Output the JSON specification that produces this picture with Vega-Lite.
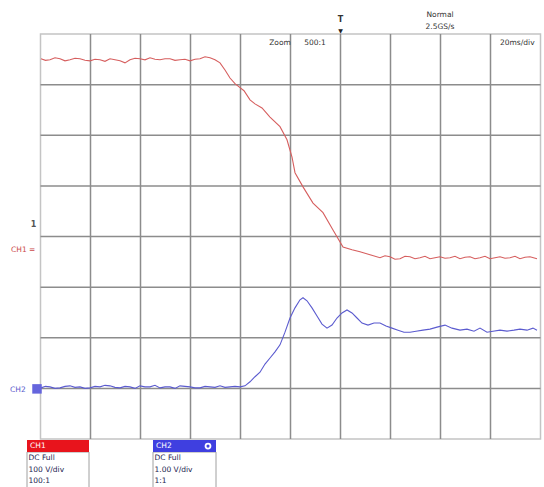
{
  "$schema": "https://vega.github.io/schema/vega-lite/v6.json",
  "width": 500,
  "height": 405,
  "autosize": {"type": "none"},
  "padding": {"left": 40.5, "top": 34, "right": 3.5, "bottom": 48},
  "background": "white",
  "config": {"view": {"stroke": "#c4c4c4", "strokeWidth": 1.5}, "font": "DejaVu Sans"},
  "datasets": {
    "vgrid": [{"p": 1}, {"p": 2}, {"p": 3}, {"p": 4}, {"p": 5}, {"p": 6}, {"p": 7}, {"p": 8}, {"p": 9}],
    "hgrid": [{"p": 1}, {"p": 2}, {"p": 3}, {"p": 4}, {"p": 5}, {"p": 6}, {"p": 7}],
    "traces": [
      {"ch": "CH1", "t": 0.01, "v": 7.51}, {"ch": "CH1", "t": 0.1, "v": 7.48}, {"ch": "CH1", "t": 0.19, "v": 7.49}, {"ch": "CH1", "t": 0.29, "v": 7.53},
      {"ch": "CH1", "t": 0.39, "v": 7.51}, {"ch": "CH1", "t": 0.49, "v": 7.47}, {"ch": "CH1", "t": 0.59, "v": 7.49}, {"ch": "CH1", "t": 0.69, "v": 7.52},
      {"ch": "CH1", "t": 0.79, "v": 7.51}, {"ch": "CH1", "t": 0.89, "v": 7.48}, {"ch": "CH1", "t": 0.99, "v": 7.47}, {"ch": "CH1", "t": 1.09, "v": 7.5},
      {"ch": "CH1", "t": 1.19, "v": 7.49}, {"ch": "CH1", "t": 1.29, "v": 7.46}, {"ch": "CH1", "t": 1.39, "v": 7.51}, {"ch": "CH1", "t": 1.49, "v": 7.49},
      {"ch": "CH1", "t": 1.59, "v": 7.47}, {"ch": "CH1", "t": 1.69, "v": 7.43}, {"ch": "CH1", "t": 1.79, "v": 7.49}, {"ch": "CH1", "t": 1.89, "v": 7.52},
      {"ch": "CH1", "t": 1.99, "v": 7.51}, {"ch": "CH1", "t": 2.09, "v": 7.49}, {"ch": "CH1", "t": 2.19, "v": 7.53}, {"ch": "CH1", "t": 2.29, "v": 7.5},
      {"ch": "CH1", "t": 2.39, "v": 7.49}, {"ch": "CH1", "t": 2.49, "v": 7.51}, {"ch": "CH1", "t": 2.59, "v": 7.51}, {"ch": "CH1", "t": 2.69, "v": 7.48},
      {"ch": "CH1", "t": 2.79, "v": 7.49}, {"ch": "CH1", "t": 2.89, "v": 7.5}, {"ch": "CH1", "t": 2.99, "v": 7.47}, {"ch": "CH1", "t": 3.09, "v": 7.5},
      {"ch": "CH1", "t": 3.19, "v": 7.51}, {"ch": "CH1", "t": 3.29, "v": 7.55}, {"ch": "CH1", "t": 3.39, "v": 7.53}, {"ch": "CH1", "t": 3.49, "v": 7.49},
      {"ch": "CH1", "t": 3.59, "v": 7.43}, {"ch": "CH1", "t": 3.69, "v": 7.29}, {"ch": "CH1", "t": 3.79, "v": 7.13}, {"ch": "CH1", "t": 3.89, "v": 7.02},
      {"ch": "CH1", "t": 3.99, "v": 6.94}, {"ch": "CH1", "t": 4.07, "v": 6.88}, {"ch": "CH1", "t": 4.19, "v": 6.7}, {"ch": "CH1", "t": 4.29, "v": 6.62},
      {"ch": "CH1", "t": 4.43, "v": 6.54}, {"ch": "CH1", "t": 4.59, "v": 6.36}, {"ch": "CH1", "t": 4.79, "v": 6.17}, {"ch": "CH1", "t": 4.93, "v": 5.91},
      {"ch": "CH1", "t": 5.03, "v": 5.57}, {"ch": "CH1", "t": 5.09, "v": 5.26}, {"ch": "CH1", "t": 5.25, "v": 4.98}, {"ch": "CH1", "t": 5.45, "v": 4.66},
      {"ch": "CH1", "t": 5.65, "v": 4.47}, {"ch": "CH1", "t": 5.85, "v": 4.13}, {"ch": "CH1", "t": 6.05, "v": 3.79}, {"ch": "CH1", "t": 6.23, "v": 3.74},
      {"ch": "CH1", "t": 6.39, "v": 3.7}, {"ch": "CH1", "t": 6.59, "v": 3.64}, {"ch": "CH1", "t": 6.79, "v": 3.58}, {"ch": "CH1", "t": 6.89, "v": 3.62},
      {"ch": "CH1", "t": 6.99, "v": 3.6}, {"ch": "CH1", "t": 7.09, "v": 3.55}, {"ch": "CH1", "t": 7.19, "v": 3.56}, {"ch": "CH1", "t": 7.29, "v": 3.61},
      {"ch": "CH1", "t": 7.39, "v": 3.6}, {"ch": "CH1", "t": 7.49, "v": 3.56}, {"ch": "CH1", "t": 7.59, "v": 3.58}, {"ch": "CH1", "t": 7.69, "v": 3.61},
      {"ch": "CH1", "t": 7.79, "v": 3.56}, {"ch": "CH1", "t": 7.89, "v": 3.58}, {"ch": "CH1", "t": 7.99, "v": 3.6}, {"ch": "CH1", "t": 8.09, "v": 3.57},
      {"ch": "CH1", "t": 8.19, "v": 3.58}, {"ch": "CH1", "t": 8.29, "v": 3.61}, {"ch": "CH1", "t": 8.39, "v": 3.56}, {"ch": "CH1", "t": 8.49, "v": 3.59},
      {"ch": "CH1", "t": 8.59, "v": 3.6}, {"ch": "CH1", "t": 8.69, "v": 3.56}, {"ch": "CH1", "t": 8.79, "v": 3.58}, {"ch": "CH1", "t": 8.89, "v": 3.61},
      {"ch": "CH1", "t": 8.99, "v": 3.56}, {"ch": "CH1", "t": 9.09, "v": 3.58}, {"ch": "CH1", "t": 9.19, "v": 3.6}, {"ch": "CH1", "t": 9.29, "v": 3.57},
      {"ch": "CH1", "t": 9.39, "v": 3.58}, {"ch": "CH1", "t": 9.49, "v": 3.61}, {"ch": "CH1", "t": 9.59, "v": 3.56}, {"ch": "CH1", "t": 9.69, "v": 3.59},
      {"ch": "CH1", "t": 9.79, "v": 3.6}, {"ch": "CH1", "t": 9.93, "v": 3.56},

      {"ch": "CH2", "t": 0.01, "v": 1.01}, {"ch": "CH2", "t": 0.1, "v": 1.04}, {"ch": "CH2", "t": 0.19, "v": 1.03}, {"ch": "CH2", "t": 0.29, "v": 1.0},
      {"ch": "CH2", "t": 0.39, "v": 1.01}, {"ch": "CH2", "t": 0.49, "v": 1.04}, {"ch": "CH2", "t": 0.59, "v": 1.05}, {"ch": "CH2", "t": 0.69, "v": 1.02},
      {"ch": "CH2", "t": 0.79, "v": 1.03}, {"ch": "CH2", "t": 0.89, "v": 1.0}, {"ch": "CH2", "t": 0.99, "v": 1.01}, {"ch": "CH2", "t": 1.09, "v": 1.04},
      {"ch": "CH2", "t": 1.19, "v": 1.03}, {"ch": "CH2", "t": 1.29, "v": 1.06}, {"ch": "CH2", "t": 1.39, "v": 1.05}, {"ch": "CH2", "t": 1.49, "v": 1.02},
      {"ch": "CH2", "t": 1.59, "v": 1.01}, {"ch": "CH2", "t": 1.69, "v": 1.04}, {"ch": "CH2", "t": 1.79, "v": 1.03}, {"ch": "CH2", "t": 1.89, "v": 1.0},
      {"ch": "CH2", "t": 1.99, "v": 1.05}, {"ch": "CH2", "t": 2.09, "v": 1.03}, {"ch": "CH2", "t": 2.19, "v": 1.03}, {"ch": "CH2", "t": 2.29, "v": 1.06},
      {"ch": "CH2", "t": 2.39, "v": 1.01}, {"ch": "CH2", "t": 2.49, "v": 1.03}, {"ch": "CH2", "t": 2.59, "v": 1.03}, {"ch": "CH2", "t": 2.69, "v": 1.0},
      {"ch": "CH2", "t": 2.79, "v": 1.05}, {"ch": "CH2", "t": 2.89, "v": 1.04}, {"ch": "CH2", "t": 2.99, "v": 1.03}, {"ch": "CH2", "t": 3.09, "v": 1.01},
      {"ch": "CH2", "t": 3.19, "v": 1.01}, {"ch": "CH2", "t": 3.29, "v": 1.04}, {"ch": "CH2", "t": 3.39, "v": 1.03}, {"ch": "CH2", "t": 3.49, "v": 1.02},
      {"ch": "CH2", "t": 3.59, "v": 1.05}, {"ch": "CH2", "t": 3.69, "v": 1.02}, {"ch": "CH2", "t": 3.79, "v": 1.03}, {"ch": "CH2", "t": 3.89, "v": 1.04},
      {"ch": "CH2", "t": 3.99, "v": 1.03}, {"ch": "CH2", "t": 4.09, "v": 1.05}, {"ch": "CH2", "t": 4.19, "v": 1.13}, {"ch": "CH2", "t": 4.29, "v": 1.23},
      {"ch": "CH2", "t": 4.39, "v": 1.32}, {"ch": "CH2", "t": 4.49, "v": 1.48}, {"ch": "CH2", "t": 4.59, "v": 1.6}, {"ch": "CH2", "t": 4.69, "v": 1.72},
      {"ch": "CH2", "t": 4.79, "v": 1.86}, {"ch": "CH2", "t": 4.89, "v": 2.11}, {"ch": "CH2", "t": 4.99, "v": 2.39}, {"ch": "CH2", "t": 5.09, "v": 2.59},
      {"ch": "CH2", "t": 5.19, "v": 2.75}, {"ch": "CH2", "t": 5.25, "v": 2.79}, {"ch": "CH2", "t": 5.33, "v": 2.73}, {"ch": "CH2", "t": 5.43, "v": 2.59},
      {"ch": "CH2", "t": 5.53, "v": 2.43}, {"ch": "CH2", "t": 5.63, "v": 2.27}, {"ch": "CH2", "t": 5.73, "v": 2.19}, {"ch": "CH2", "t": 5.83, "v": 2.25},
      {"ch": "CH2", "t": 5.93, "v": 2.39}, {"ch": "CH2", "t": 6.03, "v": 2.49}, {"ch": "CH2", "t": 6.13, "v": 2.55}, {"ch": "CH2", "t": 6.23, "v": 2.49},
      {"ch": "CH2", "t": 6.33, "v": 2.39}, {"ch": "CH2", "t": 6.43, "v": 2.29}, {"ch": "CH2", "t": 6.55, "v": 2.25}, {"ch": "CH2", "t": 6.67, "v": 2.29},
      {"ch": "CH2", "t": 6.79, "v": 2.29}, {"ch": "CH2", "t": 6.91, "v": 2.23}, {"ch": "CH2", "t": 7.03, "v": 2.19}, {"ch": "CH2", "t": 7.15, "v": 2.15},
      {"ch": "CH2", "t": 7.27, "v": 2.11}, {"ch": "CH2", "t": 7.39, "v": 2.11}, {"ch": "CH2", "t": 7.51, "v": 2.13}, {"ch": "CH2", "t": 7.65, "v": 2.15},
      {"ch": "CH2", "t": 7.79, "v": 2.17}, {"ch": "CH2", "t": 7.93, "v": 2.21}, {"ch": "CH2", "t": 8.09, "v": 2.25}, {"ch": "CH2", "t": 8.23, "v": 2.19},
      {"ch": "CH2", "t": 8.39, "v": 2.15}, {"ch": "CH2", "t": 8.53, "v": 2.17}, {"ch": "CH2", "t": 8.67, "v": 2.13}, {"ch": "CH2", "t": 8.79, "v": 2.19},
      {"ch": "CH2", "t": 8.93, "v": 2.11}, {"ch": "CH2", "t": 9.05, "v": 2.13}, {"ch": "CH2", "t": 9.19, "v": 2.15}, {"ch": "CH2", "t": 9.33, "v": 2.13},
      {"ch": "CH2", "t": 9.47, "v": 2.15}, {"ch": "CH2", "t": 9.59, "v": 2.17}, {"ch": "CH2", "t": 9.73, "v": 2.15}, {"ch": "CH2", "t": 9.85, "v": 2.19},
      {"ch": "CH2", "t": 9.93, "v": 2.15}
    ],
    "topCenter": [
      {"label": "Normal", "x": 7.99, "y": 8.38},
      {"label": "2.5GS/s", "x": 7.99, "y": 8.14},
      {"label": "Zoom", "x": 4.79, "y": 7.83},
      {"label": "500:1", "x": 5.49, "y": 7.83}
    ],
    "topLeft": [
      {"label": "20ms/div", "x": 9.19, "y": 7.83}
    ],
    "trig": [
      {"label": "T", "x": 6.0, "y": 8.28}
    ],
    "trigArrow": [
      {"label": "▼", "x": 6.0, "y": 8.06}
    ],
    "ch1Labels": [
      {"label": "CH1 =", "x": -0.59, "y": 3.735}
    ],
    "ch1Marker": [
      {"label": "1", "x": -0.14, "y": 4.23}
    ],
    "ch2Labels": [
      {"label": "CH2", "x": -0.61, "y": 0.97}
    ],
    "ch2Marker": [
      {"x": -0.07, "y": 0.99}
    ],
    "boxes": [
      {"ch": "CH1", "x": -0.27, "x2": 0.97, "y": -0.02, "y2": -0.257},
      {"ch": "CH2", "x": 2.25, "x2": 3.51, "y": -0.02, "y2": -0.257}
    ],
    "boxBodies": [
      {"x": -0.27, "x2": 0.97, "y": -0.257, "y2": -0.96},
      {"x": 2.25, "x2": 3.51, "y": -0.257, "y2": -0.96}
    ],
    "boxHeads": [
      {"label": "CH1", "x": -0.21, "y": -0.14},
      {"label": "CH2", "x": 2.31, "y": -0.14}
    ],
    "boxLines": [
      {"label": "DC Full", "x": -0.24, "y": -0.375},
      {"label": "100 V/div", "x": -0.24, "y": -0.61},
      {"label": "100:1", "x": -0.24, "y": -0.835},
      {"label": "DC Full", "x": 2.28, "y": -0.375},
      {"label": "1.00 V/div", "x": 2.28, "y": -0.61},
      {"label": "1:1", "x": 2.28, "y": -0.835}
    ],
    "icon": [
      {"x": 3.35, "y": -0.14}
    ]
  },
  "layer": [
    {
      "data": {"name": "vgrid"},
      "mark": {"type": "rule", "color": "#8c8c8c", "strokeWidth": 1.5},
      "encoding": {"x": {"field": "p", "type": "quantitative", "scale": {"domain": [0, 10], "nice": false, "zero": false}, "axis": null}}
    },
    {
      "data": {"name": "hgrid"},
      "mark": {"type": "rule", "color": "#8c8c8c", "strokeWidth": 1.5},
      "encoding": {"y": {"field": "p", "type": "quantitative", "scale": {"domain": [0, 8], "nice": false, "zero": false}, "axis": null}}
    },
    {
      "data": {"name": "traces"},
      "mark": {"type": "line", "strokeWidth": 1.1, "interpolate": "linear"},
      "encoding": {
        "x": {"field": "t", "type": "quantitative", "axis": null},
        "y": {"field": "v", "type": "quantitative", "axis": null},
        "color": {"field": "ch", "type": "nominal", "scale": {"domain": ["CH1", "CH2"], "range": ["#d65e5e", "#5b5bcf"]}, "legend": null},
        "detail": {"field": "ch"}
      }
    },
    {
      "data": {"name": "topCenter"},
      "mark": {"type": "text", "fontSize": 7.5, "color": "#333333", "align": "center", "baseline": "middle"},
      "encoding": {"x": {"field": "x", "type": "quantitative", "axis": null}, "y": {"field": "y", "type": "quantitative", "axis": null}, "text": {"field": "label"}}
    },
    {
      "data": {"name": "topLeft"},
      "mark": {"type": "text", "fontSize": 7.5, "color": "#333333", "align": "left", "baseline": "middle"},
      "encoding": {"x": {"field": "x", "type": "quantitative", "axis": null}, "y": {"field": "y", "type": "quantitative", "axis": null}, "text": {"field": "label"}}
    },
    {
      "data": {"name": "trig"},
      "mark": {"type": "text", "fontSize": 8, "fontWeight": "bold", "color": "#333333", "align": "center", "baseline": "middle"},
      "encoding": {"x": {"field": "x", "type": "quantitative", "axis": null}, "y": {"field": "y", "type": "quantitative", "axis": null}, "text": {"field": "label"}}
    },
    {
      "data": {"name": "trigArrow"},
      "mark": {"type": "text", "fontSize": 6, "color": "#222222", "align": "center", "baseline": "middle"},
      "encoding": {"x": {"field": "x", "type": "quantitative", "axis": null}, "y": {"field": "y", "type": "quantitative", "axis": null}, "text": {"field": "label"}}
    },
    {
      "data": {"name": "ch1Labels"},
      "mark": {"type": "text", "fontSize": 7.5, "color": "#cc4a4a", "align": "left", "baseline": "middle"},
      "encoding": {"x": {"field": "x", "type": "quantitative", "axis": null}, "y": {"field": "y", "type": "quantitative", "axis": null}, "text": {"field": "label"}}
    },
    {
      "data": {"name": "ch1Marker"},
      "mark": {"type": "text", "fontSize": 8, "fontWeight": "bold", "color": "#555555", "align": "center", "baseline": "middle"},
      "encoding": {"x": {"field": "x", "type": "quantitative", "axis": null}, "y": {"field": "y", "type": "quantitative", "axis": null}, "text": {"field": "label"}}
    },
    {
      "data": {"name": "ch2Labels"},
      "mark": {"type": "text", "fontSize": 7.5, "color": "#5a5acc", "align": "left", "baseline": "middle"},
      "encoding": {"x": {"field": "x", "type": "quantitative", "axis": null}, "y": {"field": "y", "type": "quantitative", "axis": null}, "text": {"field": "label"}}
    },
    {
      "data": {"name": "ch2Marker"},
      "mark": {"type": "square", "size": 90, "filled": true, "color": "#6565dd", "opacity": 1},
      "encoding": {"x": {"field": "x", "type": "quantitative", "axis": null}, "y": {"field": "y", "type": "quantitative", "axis": null}}
    },
    {
      "data": {"name": "boxBodies"},
      "mark": {"type": "rect", "fill": "white", "stroke": "#a0a0a0", "strokeWidth": 1},
      "encoding": {"x": {"field": "x", "type": "quantitative", "axis": null}, "x2": {"field": "x2"}, "y": {"field": "y", "type": "quantitative", "axis": null}, "y2": {"field": "y2"}}
    },
    {
      "data": {"name": "boxes"},
      "mark": {"type": "rect"},
      "encoding": {
        "x": {"field": "x", "type": "quantitative", "axis": null}, "x2": {"field": "x2"},
        "y": {"field": "y", "type": "quantitative", "axis": null}, "y2": {"field": "y2"},
        "fill": {"field": "ch", "type": "nominal", "scale": {"domain": ["CH1", "CH2"], "range": ["#e8141c", "#3f3fe0"]}, "legend": null}
      }
    },
    {
      "data": {"name": "boxHeads"},
      "mark": {"type": "text", "fontSize": 7.5, "color": "white", "align": "left", "baseline": "middle"},
      "encoding": {"x": {"field": "x", "type": "quantitative", "axis": null}, "y": {"field": "y", "type": "quantitative", "axis": null}, "text": {"field": "label"}}
    },
    {
      "data": {"name": "icon"},
      "mark": {"type": "circle", "size": 45, "color": "white", "opacity": 1},
      "encoding": {"x": {"field": "x", "type": "quantitative", "axis": null}, "y": {"field": "y", "type": "quantitative", "axis": null}}
    },
    {
      "data": {"name": "icon"},
      "mark": {"type": "circle", "size": 10, "color": "#3f3fe0", "opacity": 1},
      "encoding": {"x": {"field": "x", "type": "quantitative", "axis": null}, "y": {"field": "y", "type": "quantitative", "axis": null}}
    },
    {
      "data": {"name": "boxLines"},
      "mark": {"type": "text", "fontSize": 7.5, "color": "#1c2450", "align": "left", "baseline": "middle"},
      "encoding": {"x": {"field": "x", "type": "quantitative", "axis": null}, "y": {"field": "y", "type": "quantitative", "axis": null}, "text": {"field": "label"}}
    }
  ],
  "resolve": {"scale": {"color": "independent", "fill": "independent"}}
}
